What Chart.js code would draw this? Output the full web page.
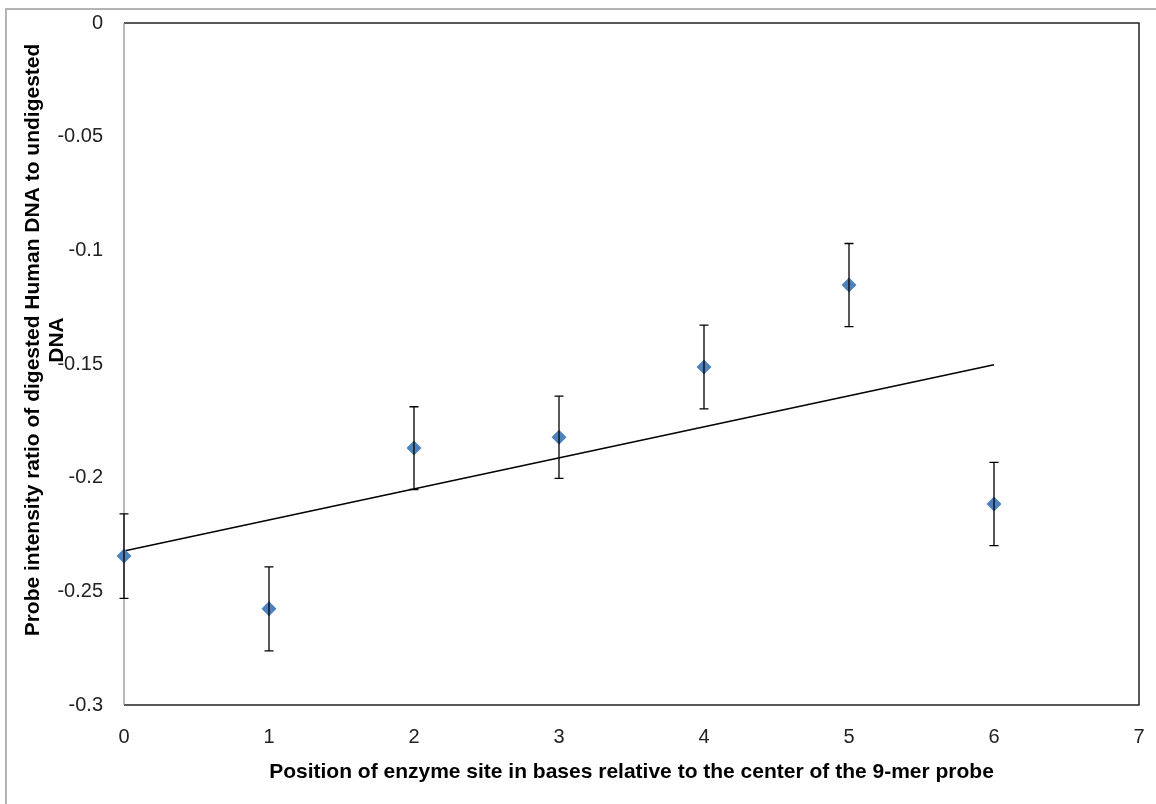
<!DOCTYPE html>
<html>
<head>
<meta charset="utf-8">
<script src="https://cdn.jsdelivr.net/npm/chart.js@4"></script>
<style>
  html, body { margin: 0; padding: 0; background: #fff; }
  #wrap { width: 1156px; height: 804px; }
</style>
</head>
<body>
<div id="wrap"><canvas id="c" width="1156" height="804"></canvas></div>
<script>
// Enzyme-site position relative to the 9-mer probe centre
const positions = [0, 1, 2, 3, 4, 5, 6];
// Mean probe intensity ratio (digested / undigested)
const ratios = [-0.2345, -0.2577, -0.1870, -0.1822, -0.1513, -0.1153, -0.2116];
// Error bar half-widths
const errors = [0.0186, 0.0185, 0.0182, 0.0181, 0.0184, 0.0183, 0.0183];
// Linear trend line end points
const trendX = [0, 6];
const trendY = [-0.2323, -0.1503];

const xTicks = [0, 1, 2, 3, 4, 5, 6, 7];
const yTicks = [0, -0.05, -0.1, -0.15, -0.2, -0.25, -0.3];

const yTitleLines = ['Probe intensity ratio of digested Human DNA to undigested', 'DNA'];
const xTitle = 'Position of enzyme site in bases relative to the center of the 9-mer probe';

const FONT = '"Liberation Sans", Arial, sans-serif';

// Error bars with caps, drawn in data space through the scales
const errorBars = {
  id: 'errorBars',
  afterDatasetsDraw(chart) {
    const { ctx, scales: { x, y } } = chart;
    ctx.save();
    ctx.strokeStyle = '#000';
    ctx.lineWidth = 1.3;
    positions.forEach((p, i) => {
      const px = x.getPixelForValue(p);
      const top = y.getPixelForValue(ratios[i] + errors[i]);
      const bot = y.getPixelForValue(ratios[i] - errors[i]);
      ctx.beginPath();
      ctx.moveTo(px, top); ctx.lineTo(px, bot);
      ctx.moveTo(px - 4.5, top); ctx.lineTo(px + 4.5, top);
      ctx.moveTo(px - 4.5, bot); ctx.lineTo(px + 4.5, bot);
      ctx.stroke();
    });
    ctx.restore();
  }
};

// Plot frame, outer frame and the two-line vertical axis title
const frame = {
  id: 'frame',
  beforeDraw(chart) {
    const { ctx } = chart;
    ctx.save();
    ctx.fillStyle = '#fff';
    ctx.fillRect(0, 0, chart.width, chart.height);
    ctx.strokeStyle = '#b3b3b3';
    ctx.lineWidth = 2;
    ctx.beginPath();
    ctx.moveTo(1156, 9); ctx.lineTo(6, 9); ctx.lineTo(6, 804);
    ctx.stroke();
    ctx.restore();
  },
  beforeDatasetsDraw(chart) {
    const { ctx, chartArea: a } = chart;
    ctx.save();
    ctx.lineWidth = 1.5;
    ctx.strokeStyle = '#222';
    ctx.beginPath();
    ctx.moveTo(a.left, a.top); ctx.lineTo(a.right, a.top);
    ctx.lineTo(a.right, a.bottom); ctx.lineTo(a.left, a.bottom);
    ctx.stroke();
    ctx.strokeStyle = '#8c8c8c';
    ctx.lineWidth = 1.2;
    ctx.beginPath();
    ctx.moveTo(a.left, a.top); ctx.lineTo(a.left, a.bottom);
    ctx.stroke();
    ctx.restore();
  },
  afterDraw(chart) {
    const { ctx } = chart;
    ctx.save();
    ctx.fillStyle = '#000';
    ctx.font = 'bold 21px ' + FONT;
    ctx.textAlign = 'center';
    ctx.textBaseline = 'middle';
    const cy = 340;
    yTitleLines.forEach((line, i) => {
      ctx.save();
      ctx.translate(33 + i * 24, cy);
      ctx.rotate(-Math.PI / 2);
      ctx.fillText(line, 0, 0);
      ctx.restore();
    });
    ctx.restore();
  }
};

new Chart(document.getElementById('c'), {
  type: 'scatter',
  data: {
    datasets: [
      {
        label: 'ratio',
        data: positions.map((p, i) => ({ x: p, y: ratios[i] })),
        pointStyle: 'rectRot',
        pointRadius: 7.5,
        pointHoverRadius: 7.5,
        backgroundColor: '#4f81bd',
        borderColor: '#4f81bd',
        borderWidth: 0,
        clip: false,
        order: 0
      },
      {
        label: 'trend',
        type: 'line',
        data: trendX.map((p, i) => ({ x: p, y: trendY[i] })),
        borderColor: '#000',
        borderWidth: 1.5,
        pointRadius: 0,
        fill: false,
        clip: false,
        order: 2
      }
    ]
  },
  options: {
    responsive: false,
    animation: false,
    devicePixelRatio: 1,
    layout: { padding: { left: 0, top: 23, right: 17, bottom: 0 } },
    plugins: { legend: { display: false }, tooltip: { enabled: false } },
    scales: {
      x: {
        type: 'linear',
        min: 0, max: 7,
        afterBuildTicks: s => { s.ticks = xTicks.map(v => ({ value: v })); },
        afterFit: s => { s.height = 99; s.paddingLeft = 0; s.paddingRight = 0; },
        grid: { display: false, drawTicks: false },
        border: { display: false },
        ticks: {
          padding: 20,
          color: '#222',
          font: { family: FONT, size: 20 },
          callback: v => String(v)
        },
        title: {
          display: true,
          text: xTitle,
          color: '#000',
          font: { family: FONT, size: 21, weight: 'bold' },
          padding: { top: 0, bottom: 19 }
        }
      },
      y: {
        type: 'linear',
        min: -0.3, max: 0,
        afterBuildTicks: s => { s.ticks = yTicks.map(v => ({ value: v })); },
        afterFit: s => { s.width = 124; s.paddingTop = 0; s.paddingBottom = 0; },
        grid: { display: false, drawTicks: false },
        border: { display: false },
        ticks: {
          padding: 21,
          color: '#222',
          font: { family: FONT, size: 20 },
          callback: v => String(v)
        }
      }
    }
  },
  plugins: [frame, errorBars]
});
</script>
</body>
</html>
